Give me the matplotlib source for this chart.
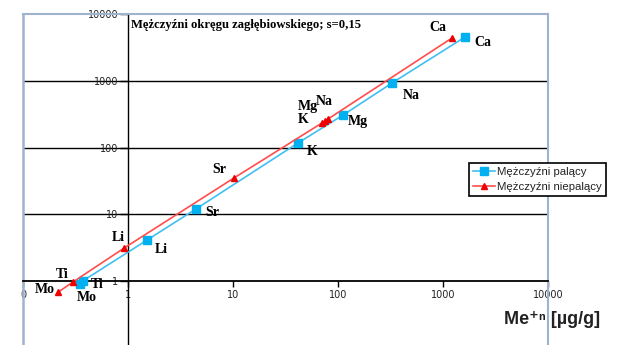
import numpy as np
import matplotlib.pyplot as plt
from matplotlib.ticker import FixedLocator, NullLocator

# dane
elements = ['Mo', 'Ti', 'Li', 'Sr', 'K', 'Mg', 'Na', 'Ca']
x_pal = [0.35, 0.37, 1.52, 4.44, 41.6, 112, 327, 1620]
y_pal = [0.90, 1.0, 4.11, 12.0, 117, 307, 925, 4520]
x_niepal = [0.216, 0.30, 0.92, 10.2, 70.4, 75.2, 80.3, 1218]
y_niepal = [0.68, 0.97, 3.12, 34.9, 233, 250, 267, 4370]

xticks = [0.1, 1, 10, 100, 1000, 10000]
xtick_labels = ['0', '1', '10', '100', '1000', '10000']
yticks = [1, 10, 100, 1000, 10000]
ytick_labels = ['1', '10', '100', '1000', '10000']
grid_y = [10, 100, 1000]

# przesuniecia etykiet (piksele)
off_pal = [(7, -13), (15, -4), (14, -9), (16, -4), (14, -9), (15, -7), (19, -12), (18, -5)]
off_niepal = [(-13, 3), (-11, 7), (-6, 11), (-15, 9), (-19, 3), (-17, 14), (-4, 18), (-14, 10)]

frame_col = '#9fb3cf'
blue = '#40bff2'
blue_m = '#00b0f0'
red = '#ff4d4d'
red_m = '#ee0000'

fig = plt.figure(figsize=(6.3, 3.45), dpi=100)
ax = fig.add_axes([23/630, -2.75/345, 525/630, 333.75/345])
ax.set_xscale('log')
ax.set_yscale('log')
ax.set_xlim(0.1, 10000)
ax.set_ylim(0.1, 10000)

ax.spines['left'].set_position(('data', 1))
ax.spines['bottom'].set_position(('data', 1))
ax.spines['left'].set_color('black')
ax.spines['bottom'].set_color('black')
ax.spines['bottom'].set_linewidth(1.3)
ax.spines['left'].set_linewidth(1)
ax.spines['top'].set_color(frame_col)
ax.spines['right'].set_color(frame_col)
ax.spines['top'].set_linewidth(1.5)
ax.spines['right'].set_linewidth(1.5)
ax.axvline(0.1, color=frame_col, lw=1.8, clip_on=False)

for v in grid_y:
    ax.axhline(v, color='black', lw=1, zorder=1)

ax.xaxis.set_major_locator(FixedLocator(xticks))
ax.xaxis.set_ticklabels(xtick_labels)
ax.yaxis.set_major_locator(FixedLocator(yticks))
ax.yaxis.set_ticklabels(ytick_labels)
ax.xaxis.set_minor_locator(NullLocator())
ax.yaxis.set_minor_locator(NullLocator())
ax.tick_params(axis='y', direction='out', length=6, width=1, pad=1,
               labelsize=7, labelcolor='#222222')
ax.tick_params(axis='x', direction='out', length=4, width=1, pad=2.5,
               labelsize=7, labelcolor='#222222')

l1, = ax.plot(x_pal, y_pal, color=blue, lw=1.2, marker='s', ms=5.5,
              mfc=blue_m, mec=blue_m, zorder=3, label='Mężczyźni palący')
l2, = ax.plot(x_niepal, y_niepal, color=red, lw=1.2, marker='^', ms=5,
              mfc=red_m, mec=red_m, zorder=3, label='Mężczyźni niepalący')

for el, x, y, o in zip(elements, x_pal, y_pal, off_pal):
    ax.annotate(el, (x, y), xytext=o, textcoords='offset pixels', ha='center',
                va='center', family='Liberation Serif', weight='bold', fontsize=10)
for el, x, y, o in zip(elements, x_niepal, y_niepal, off_niepal):
    ax.annotate(el, (x, y), xytext=o, textcoords='offset pixels', ha='center',
                va='center', family='Liberation Serif', weight='bold', fontsize=10)

fig.text(131/630, 1 - 25/345, 'Mężczyźni okręgu zagłębiowskiego; s=0,15',
         ha='left', va='center', family='Liberation Serif', weight='bold', fontsize=9.1)

fig.text(552/630, 1 - 320/345, 'Me⁺ⁿ [µg/g]', ha='center', va='center',
         family=['Liberation Sans', 'DejaVu Sans'], weight='bold', fontsize=13,
         color='#222222')

leg = ax.legend(handles=[l1, l2], loc='upper left',
                bbox_to_anchor=(469/630, 1 - 163/345), bbox_transform=fig.transFigure,
                borderaxespad=0, fancybox=False, edgecolor='black', framealpha=1,
                prop={'family': 'Liberation Sans', 'size': 8.2},
                handlelength=1.9, handletextpad=0.2, borderpad=0.35, labelspacing=0.4)
leg.get_frame().set_linewidth(1.2)
for t in leg.get_texts():
    t.set_color('#222222')

fig.savefig('out.png', dpi=100)
